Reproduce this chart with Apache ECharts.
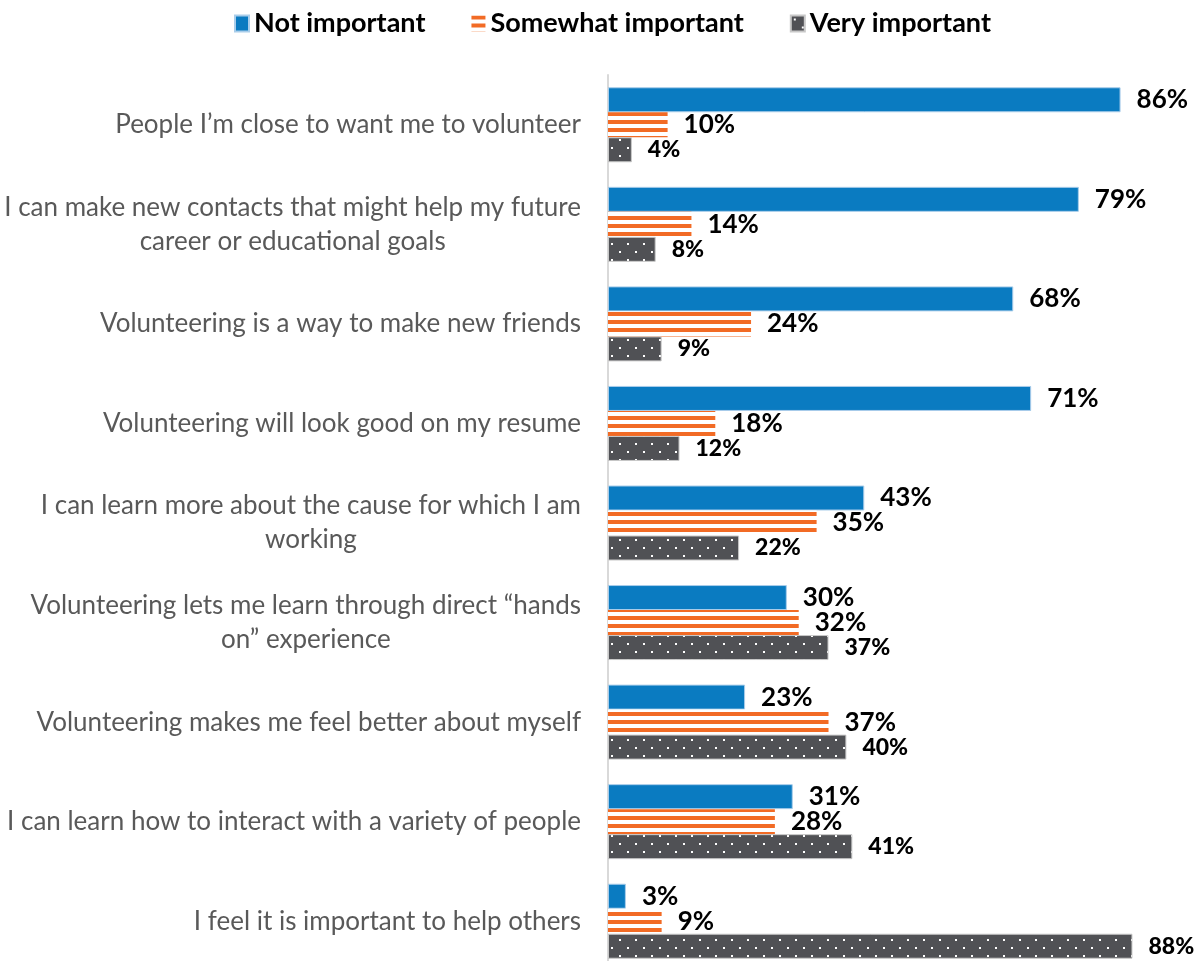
<!DOCTYPE html>
<html>
<head>
<meta charset="utf-8">
<script src="https://cdn.jsdelivr.net/npm/echarts@6/dist/echarts.min.js"></script>
<style>
  html, body { margin: 0; padding: 0; background: #fff; }
  #chart { width: 1195px; height: 961px; }
</style>
</head>
<body>
<div id="chart"></div>
<script>
// Reasons for volunteering, share of respondents by importance rating
const categories = [
  'People I\u2019m close to want me to volunteer',
  'I can make new contacts that might help my future\ncareer or educational goals',
  'Volunteering is a way to make new friends',
  'Volunteering will look good on my resume',
  'I can learn more about the cause for which I am\nworking',
  'Volunteering lets me learn through direct \u201chands\non\u201d experience',
  'Volunteering makes me feel better about myself',
  'I can learn how to interact with a variety of people',
  'I feel it is important to help others'
];
const seriesNames = ['Not important', 'Somewhat important', 'Very important'];
const notImportant      = [86, 79, 68, 71, 43, 30, 23, 31, 3];
const somewhatImportant = [10, 14, 24, 18, 35, 32, 37, 28, 9];
const veryImportant     = [4, 8, 9, 12, 22, 37, 40, 41, 88];

// Fill patterns: horizontal orange stripes and white dots on dark grey
function stripePattern() {
  const c = document.createElement('canvas');
  c.width = 8; c.height = 8;
  const g = c.getContext('2d');
  g.fillStyle = '#ffffff'; g.fillRect(0, 0, 8, 8);
  g.fillStyle = '#F26B25'; g.fillRect(0, 0, 8, 4);
  return c;
}
function dotPattern() {
  const c = document.createElement('canvas');
  c.width = 16; c.height = 16;
  const g = c.getContext('2d');
  g.fillStyle = '#505155'; g.fillRect(0, 0, 16, 16);
  g.fillStyle = '#ffffff';
  g.fillRect(3, 3, 2, 2);
  g.fillRect(11, 11, 2, 2);
  return c;
}

const FONT = 'Lato, "Noto Sans", sans-serif';
const chart = echarts.init(document.getElementById('chart'), null, { renderer: 'canvas' });

const valueLabel = (size, weight) => ({
  show: true,
  position: 'right',
  distance: 16,
  formatter: '{c}%',
  color: '#000',
  fontFamily: FONT,
  fontSize: size,
  fontWeight: weight
});

chart.setOption({
  animation: false,
  backgroundColor: '#ffffff',
  legend: {
    top: 5,
    left: 229,
    icon: 'rect',
    itemWidth: 14,
    itemHeight: 16,
    itemGap: 46,
    textStyle: { fontFamily: FONT, fontSize: 27, fontWeight: 'bold', color: '#000' },
    data: seriesNames
  },
  grid: {
    left: 608, top: 75, width: 596, height: 896,
    containLabel: false,
    outerBoundsMode: 'none'
  },
  xAxis: { type: 'value', min: 0, max: 100, show: false },
  yAxis: {
    type: 'category',
    inverse: true,
    data: categories,
    axisLine: { show: true, lineStyle: { color: '#d9d9d9', width: 2 } },
    axisTick: { show: false },
    axisLabel: {
      margin: 27,
      align: 'right',
      formatter: v => v.split('\n').map(l => '{c|' + l + '}').join('\n'),
      rich: {
        c: { align: 'center', fontFamily: FONT, fontSize: 26, color: '#595959', lineHeight: 34 }
      }
    }
  },
  series: [
    {
      name: seriesNames[0], type: 'bar', data: notImportant,
      barWidth: 25, barGap: '0%',
      itemStyle: { color: '#0A7BC1', borderColor: '#a9cdea', borderWidth: 1 },
      label: valueLabel(26, 'bold')
    },
    {
      name: seriesNames[1], type: 'bar', data: somewhatImportant,
      barWidth: 25, barGap: '0%',
      itemStyle: { color: { image: stripePattern(), repeat: 'repeat' } },
      label: valueLabel(26, 'bold')
    },
    {
      name: seriesNames[2], type: 'bar', data: veryImportant,
      barWidth: 25, barGap: '0%',
      itemStyle: { color: { image: dotPattern(), repeat: 'repeat' }, borderColor: '#c8c8c8', borderWidth: 1 },
      label: valueLabel(23, 900)
    }
  ]
});
</script>
</body>
</html>
